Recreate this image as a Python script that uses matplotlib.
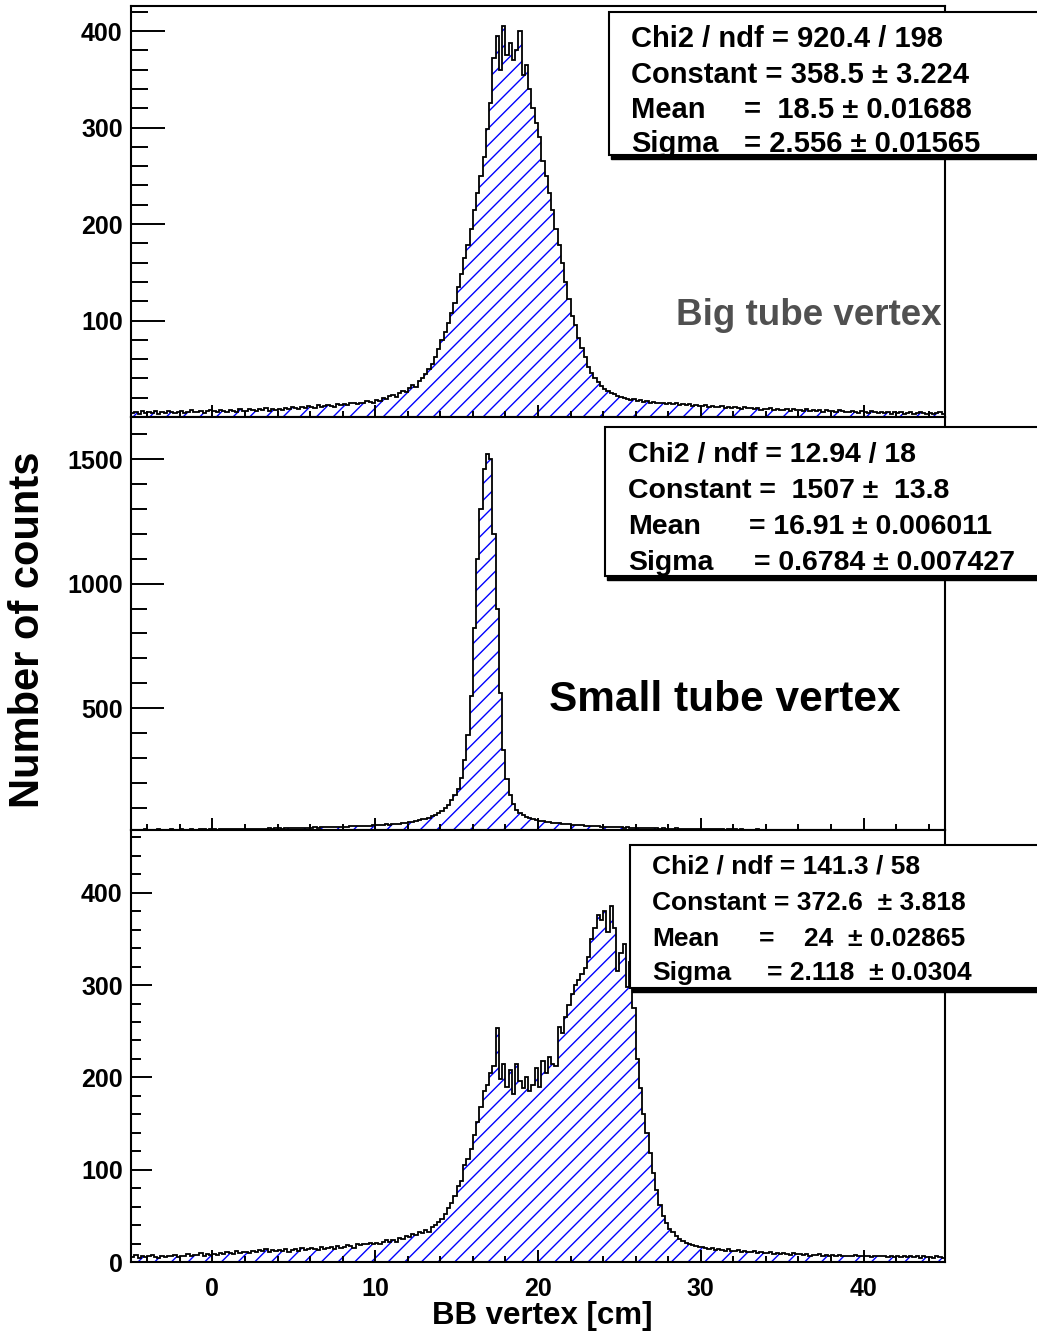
import numpy as np
import matplotlib
matplotlib.use('Agg')
import matplotlib.pyplot as plt
from matplotlib.patches import Rectangle
from matplotlib.ticker import MultipleLocator

plt.rcParams['font.family'] = ['Liberation Sans', 'DejaVu Sans']
plt.rcParams['font.weight'] = 'bold'
plt.rcParams['hatch.linewidth'] = 1.0

# bin edges: 250 bins of 0.2 cm from -5 to 45
edges = np.linspace(-5, 45, 251)

# Big tube vertex counts (5 bins per cm)
big_counts = [
    4, 5, 3, 6, 4, 5, 4, 6, 3, 5,
    4, 6, 5, 4, 5, 6, 4, 5, 7, 5,
    5, 6, 4, 6, 7, 6, 5, 7, 6, 5,
    7, 6, 5, 8, 6, 6, 8, 7, 6, 8,
    7, 9, 6, 8, 7, 8, 7, 9, 8, 10,
    9, 8, 10, 9, 11, 10, 9, 12, 10, 11,
    12, 11, 10, 13, 12, 13, 12, 15, 14, 13,
    15, 14, 17, 16, 15, 18, 17, 20, 19, 22,
    23, 21, 25, 27, 26, 30, 33, 31, 37, 40,
    45, 50, 55, 62, 70, 80, 88, 97, 108, 118,
    135, 148, 165, 178, 195, 215, 232, 250, 270, 298,
    325, 372, 395, 360, 405, 375, 388, 370, 380, 400,
    355, 365, 340, 320, 305, 290, 265, 250, 232, 215,
    195, 178, 160, 140, 122, 105, 95, 82, 72, 62,
    52, 46, 40, 36, 32, 29, 27, 25, 24, 22,
    21, 20, 19, 18, 19, 17, 18, 16, 17, 15,
    16, 15, 14, 15, 13, 14, 13, 14, 12, 13,
    12, 13, 11, 12, 11, 11, 12, 10, 11, 10,
    10, 11, 9, 10, 9, 10, 9, 8, 10, 9,
    9, 8, 9, 7, 8, 8, 9, 7, 8, 7,
    7, 8, 6, 8, 7, 7, 6, 8, 6, 7,
    6, 7, 5, 7, 6, 6, 5, 7, 6, 5,
    5, 6, 5, 4, 6, 5, 4, 6, 5, 4,
    5, 4, 5, 3, 5, 4, 5, 3, 4, 5,
    3, 4, 5, 4, 3, 4, 3, 4, 5, 3,
]

# Small tube vertex counts
small_counts = [
    10, 12, 9, 11, 13, 11, 10, 12, 13, 10,
    12, 11, 13, 10, 12, 13, 12, 11, 14, 12,
    12, 14, 13, 12, 15, 13, 12, 14, 15, 13,
    14, 13, 15, 14, 16, 15, 14, 16, 15, 14,
    16, 15, 17, 16, 18, 17, 16, 18, 17, 19,
    18, 17, 19, 20, 18, 19, 21, 20, 22, 21,
    22, 21, 23, 24, 22, 24, 23, 25, 26, 25,
    26, 27, 25, 28, 29, 30, 29, 31, 33, 32,
    34, 36, 35, 38, 40, 41, 44, 46, 49, 53,
    56, 60, 66, 72, 80, 88, 98, 112, 130, 150,
    175, 220, 290, 390, 550, 820, 1100, 1300, 1460, 1520,
    1500, 1200, 900, 560, 330, 215, 150, 115, 92, 80,
    70, 62, 58, 54, 50, 48, 45, 43, 42, 40,
    38, 37, 35, 34, 33, 32, 31, 30, 29, 28,
    27, 26, 27, 25, 24, 23, 24, 22, 21, 22,
    21, 20, 21, 19, 20, 19, 18, 20, 18, 17,
    18, 17, 16, 17, 16, 16, 15, 17, 15, 16,
    15, 14, 16, 15, 14, 14, 15, 13, 14, 13,
    13, 14, 12, 13, 14, 13, 12, 13, 11, 12,
    12, 11, 13, 12, 11, 11, 12, 10, 11, 12,
    11, 10, 12, 11, 10, 10, 11, 9, 10, 11,
    10, 9, 11, 10, 9, 9, 10, 8, 10, 9,
    9, 8, 10, 9, 8, 8, 9, 8, 7, 9,
    8, 7, 9, 8, 7, 7, 8, 7, 9, 8,
    7, 8, 6, 7, 8, 7, 6, 8, 7, 6,
]

# combined (bottom) vertex counts
all_counts = [
    5, 8, 4, 7, 5, 6, 8, 5, 4, 6,
    5, 7, 6, 8, 5, 7, 6, 9, 7, 8,
    8, 10, 7, 9, 8, 9, 8, 10, 9, 11,
    10, 9, 12, 10, 11, 11, 10, 12, 11, 13,
    12, 14, 11, 13, 12, 13, 12, 14, 11, 13,
    14, 12, 15, 13, 14, 15, 14, 13, 16, 14,
    15, 16, 14, 17, 15, 16, 18, 17, 15, 19,
    18, 20, 19, 21, 19, 21, 20, 22, 24, 22,
    24, 22, 26, 25, 28, 27, 30, 29, 33, 31,
    35, 33, 38, 40, 43, 47, 52, 58, 64, 72,
    82, 88, 105, 112, 122, 138, 152, 168, 185, 192,
    205, 212, 253, 198, 215, 190, 208, 182, 215, 196,
    188, 200, 185, 192, 210, 190, 218, 205, 222, 214,
    212, 255, 248, 265, 278, 290, 300, 305, 312, 318,
    330, 350, 362, 376, 370, 380, 358, 386, 362, 315,
    335, 345, 298, 325, 275, 220, 188, 160, 140, 118,
    96, 78, 62, 50, 42, 36, 32, 28, 25, 23,
    21, 20, 18, 17, 16, 16, 15, 14, 15, 13,
    14, 13, 12, 14, 12, 12, 13, 11, 12, 11,
    11, 12, 10, 11, 10, 10, 11, 9, 10, 9,
    10, 9, 8, 10, 9, 9, 8, 9, 7, 8,
    8, 9, 7, 8, 7, 8, 7, 8, 6, 7,
    7, 6, 8, 7, 6, 7, 6, 5, 7, 6,
    6, 7, 5, 6, 5, 6, 5, 7, 5, 6,
    5, 6, 4, 6, 5, 5, 4, 6, 5, 4,
]

# fit results: (label, value) per line; value empty -> whole line in label
big_labels = ["Chi2 / ndf = 920.4 / 198", "Constant = 358.5 ± 3.224", "Mean", "Sigma"]
big_values = ["", "", "=  18.5 ± 0.01688", "= 2.556 ± 0.01565"]
small_labels = ["Chi2 / ndf = 12.94 / 18", "Constant =  1507 ±  13.8", "Mean", "Sigma"]
small_values = ["", "", "= 16.91 ± 0.006011", "= 0.6784 ± 0.007427"]
all_labels = ["Chi2 / ndf = 141.3 / 58", "Constant = 372.6  ± 3.818", "Mean", "Sigma"]
all_values = ["", "", "=    24  ± 0.02865", "= 2.118  ± 0.0304"]

W, H = 1037, 1336


def fx(px):
    return px / W


def fy(py):
    return 1 - py / H


fig = plt.figure(figsize=(W / 100, H / 100), dpi=100)

# pixel layout of the three pads
pads = [
    (6, 417, (0, 426), 100, 20, (34, 17), big_counts),
    (417, 830, (10, 1670), 500, 100, (33, 16), small_counts),
    (830, 1262, (0, 468), 100, 20, (21, 10), all_counts),
]

for i, (top, bot, ylim, major, minor, tl, counts) in enumerate(pads):
    ax = fig.add_axes([fx(131), fy(bot), fx(945) - fx(131), (bot - top) / H])
    ax.stairs(counts, edges, fill=True, facecolor='none', edgecolor='blue',
              hatch='//', linewidth=0)
    ax.stairs(counts, edges, color='black', linewidth=1.3, baseline=None)
    ax.set_xlim(-5, 45)
    ax.set_ylim(*ylim)
    ax.xaxis.set_major_locator(MultipleLocator(10))
    ax.xaxis.set_minor_locator(MultipleLocator(2))
    ax.yaxis.set_major_locator(MultipleLocator(major))
    ax.yaxis.set_minor_locator(MultipleLocator(minor))
    ax.tick_params(axis='y', which='major', direction='in', length=tl[0] * 0.72,
                   width=1.4, labelsize=18, pad=6)
    ax.tick_params(axis='y', which='minor', direction='in', length=tl[1] * 0.72,
                   width=1.4)
    ax.tick_params(axis='x', which='major', direction='in', length=9,
                   width=1.4, labelsize=18, pad=11)
    ax.tick_params(axis='x', which='minor', direction='in', length=4.5,
                   width=1.4)
    for s in ax.spines.values():
        s.set_linewidth(1.5)
    if i < 2:
        ax.tick_params(axis='x', labelbottom=False)
        ax.set_yticks([t for t in ax.get_yticks() if ylim[0] + 1 < t <= ylim[1]])
    else:
        ax.set_yticks([t for t in ax.get_yticks() if 0 <= t <= ylim[1]])
    ax.set_ylim(*ylim)


def stats_box(x0, y0, y1, labels, values, x_lab, x_end, baselines, size):
    shadow = Rectangle((fx(x0 + 2), fy(y1 + 4)), fx(1060 - x0), (y1 - y0) / H,
                       transform=fig.transFigure, facecolor='black',
                       edgecolor='black', zorder=5)
    box = Rectangle((fx(x0), fy(y1)), fx(1060 - x0), (y1 - y0) / H,
                    transform=fig.transFigure, facecolor='white',
                    edgecolor='black', linewidth=1.5, zorder=6)
    fig.patches.extend([shadow, box])
    for lab, val, xe, by in zip(labels, values, x_end, baselines):
        fig.text(fx(x_lab), fy(by), lab, fontsize=size, ha='left',
                 va='baseline', zorder=7)
        if val:
            fig.text(fx(xe), fy(by), val, fontsize=size, ha='right',
                     va='baseline', zorder=7)


stats_box(609, 12, 155, big_labels, big_values, 631,
          [942, 967, 972, 980], [47, 83, 118, 152], 21)
stats_box(605, 427, 576, small_labels, small_values, 628,
          [922, 957, 992, 1015], [462, 498, 534, 570], 20.5)
stats_box(630, 845, 988, all_labels, all_values, 652,
          [923, 972, 965, 972], [873, 910, 946, 980], 19)

fig.text(fx(942), fy(325), "Big tube vertex", fontsize=26.5, color='#505050',
         ha='right', va='baseline')
fig.text(fx(549), fy(711), "Small tube vertex", fontsize=30.5, color='black',
         ha='left', va='baseline')

fig.text(fx(28), fy(630), "Number of counts", fontsize=30, rotation=90,
         ha='center', va='center')
fig.text(fx(542), fy(1316), "BB vertex [cm]", fontsize=22.5,
         ha='center', va='center')

fig.savefig('out.png', dpi=100)
